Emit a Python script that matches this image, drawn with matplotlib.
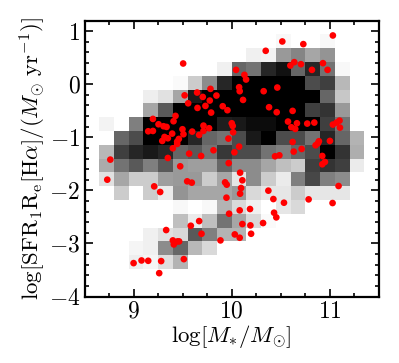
import numpy as np
import matplotlib
matplotlib.use("Agg")
import matplotlib.pyplot as plt
from matplotlib.ticker import MultipleLocator, FixedFormatter, FixedLocator

plt.rcParams['font.family'] = ['cmr10', 'DejaVu Sans']
plt.rcParams['mathtext.fontset'] = 'cm'
plt.rcParams['axes.formatter.use_mathtext'] = True

x_edges = np.linspace(8.5, 11.5, 21)
y_edges = np.linspace(-4, 1.2, 21)

# darkness of each cell, rows from bottom (-4) to top (1.2), 20 mass bins each
density = [
 [0]*20,
 [0]*20,
 [0,0,0,.07,.04,.13,.30,0,0,0,0,0,0,0,0,0,0,0,0,0],
 [0,0,0,.04,.06,.45,.60,.28,.15,0,0,0,0,0,0,0,0,0,0,0],
 [0,0,0,0,.06,.12,.15,.65,.50,.30,.30,0,0,0,0,0,0,0,0,0],
 [0,0,0,0,0,0,.25,.08,.25,.55,.35,.15,.02,0,0,0,0,0,0,0],
 [0,0,0,0,0,0,.03,0,.03,.30,.15,.06,0,.10,.15,0,0,0,0,0],
 [0,0,.20,0,.20,.08,.42,.35,.35,.35,.40,.15,.10,.10,.20,.10,.10,.10,0,0],
 [0,.12,.35,.20,.20,.38,.40,.40,.20,.35,.10,.45,.20,.08,.50,.72,.50,.45,0,0],
 [0,.33,.55,.65,.50,.65,.40,.38,.38,.60,.45,.45,.35,.25,.20,.75,.80,.75,.08,0],
 [0,.28,.75,.85,.90,.85,.60,.65,.55,.78,.70,.70,.55,.50,.60,.70,1,.80,.32,0],
 [0,0,.60,.70,1,1,1,.85,.60,.55,.70,.90,1,.70,.70,.55,.85,.60,.30,0],
 [0,.05,0,.50,1,1,1,1,1,.88,.90,.95,.95,1,1,1,.75,.55,0,0],
 [0,0,0,0,.35,.65,1,1,1,1,1,1,1,1,1,.75,.80,.40,0,0],
 [0,0,0,0,.07,.12,.35,.90,1,1,1,1,1,1,1,1,.60,.22,0,0],
 [0,0,0,0,0,0,.02,.20,.45,.85,1,1,1,1,1,.70,.75,.28,0,0],
 [0,0,0,0,0,0,0,0,0,.06,.60,.55,.85,.93,.60,.85,.55,.03,0,0],
 [0,0,0,0,0,0,0,0,0,0,0,.06,.05,.40,.48,.35,.42,0,0,0],
 [0,0,0,0,0,0,0,0,0,0,0,0,0,.03,0,0,.03,0,0,0],
 [0]*20,
]

galaxy_mass = [
 9.505,9.52,9.556,9.647,9.705,9.783,9.844,9.776,9.732,9.651,9.79,9.908,9.956,9.427,9.407,9.197,9.254,9.305,9.336,
 9.149,9.197,9.498,9.597,9.712,9.712,9.769,9.668,9.508,9.393,9.315,9.349,9.292,9.461,9.444,9.444,9.4,9.566,9.688,
 9.814,9.349,9.475,8.763,9.966,9.969,
 11.03,10.515,10.729,10.346,10.637,10.597,10.705,10.929,10.976,10.817,10.044,10.129,10.146,10.075,10.081,10.325,
 10.464,10.115,10.38,10.458,10.62,10.573,10.664,10.607,10.647,10.769,10.841,10.0,10.01,10.014,11.03,11.068,11.098,
 11.102,11.0,10.888,10.878,10.854,10.62,10.075,10.027,10.631,10.712,10.485,10.441,10.922,10.949,10.922,
 8.732,9.21,9.271,9.546,9.593,9.932,9.949,9.946,9.973,9.332,9.583,9.668,9.692,9.885,9.4,9.447,9.464,9.41,9.512,
 9.281,9.149,9.081,9.0,9.261,
 10.085,10.108,10.095,10.085,10.373,10.424,10.532,10.783,11.027,11.088,10.081,10.186,10.431,10.454,10.319,10.108,
 10.19,10.031,10.081,10.197,
]
galaxy_sfr = [
 .39,-.21,-.36,-.157,-.24,-.088,-.214,-.308,-.409,-.447,-.535,-.415,-.49,-.597,-.698,-.654,-.755,-.792,-.805,
 -.887,-.881,-.849,-.893,-.78,-.881,-.83,-.956,-.943,-.931,-.994,-1.019,-1.069,-1.031,-1.082,-1.126,-1.208,-1.308,-1.352,
 -1.245,-1.39,-1.547,-1.421,-1.025,-1.487,
 .918,.805,.755,.629,.415,.352,.377,.396,.27,.27,.27,.176,.088,-.057,-.132,-.132,
 -.063,-.296,-.434,-.528,-.503,-.704,-.736,-.811,-.843,-.742,-.723,-.736,-.786,-.906,-.761,-.723,-.686,
 -.818,-1.069,-1.075,-1.113,-1.151,-1.088,-1.176,-1.283,-1.27,-1.22,-1.34,-1.358,-1.352,-1.465,-1.509,
 -1.799,-1.925,-2.031,-1.83,-1.855,-1.849,-1.893,-2.138,-2.44,-2.748,-2.667,-2.579,-2.818,-2.943,-2.943,-2.962,-2.962,-3.019,-3.296,
 -3.333,-3.327,-3.321,-3.371,-3.56,
 -1.667,-1.811,-1.956,-2.063,-2.006,-2.164,-2.233,-2.17,-2.239,-1.918,-2.377,-2.352,-2.421,-2.509,-2.616,-2.635,
 -2.66,-2.83,-2.893,-2.818,
]

fig = plt.figure(figsize=(3.99, 3.63), dpi=100)
ax = fig.add_axes([84.5/399, 1-296.5/363, (379-84.5)/399, (296.5-20.5)/363])
ax.pcolormesh(x_edges, y_edges, np.array(density), cmap='gray_r', vmin=0, vmax=1, rasterized=True)
ax.scatter(galaxy_mass, galaxy_sfr, s=23, c='red', edgecolors='none', zorder=3)

ax.set_xlim(8.5, 11.5)
ax.set_ylim(-4, 1.2)
ax.xaxis.set_major_locator(FixedLocator([9, 10, 11]))
ax.xaxis.set_major_formatter(FixedFormatter(['$9$', '$10$', '$11$']))
ax.xaxis.set_minor_locator(MultipleLocator(0.25))
ax.yaxis.set_major_locator(FixedLocator([-4, -3, -2, -1, 0, 1]))
ax.yaxis.set_major_formatter(FixedFormatter(['$-4$', '$-3$', '$-2$', '$-1$', '$0$', '$1$']))
ax.yaxis.set_minor_locator(MultipleLocator(0.2))
ax.tick_params(which='both', direction='in', top=True, right=True, width=1.2)
ax.tick_params(which='major', length=6, labelsize=17, pad=3)
ax.tick_params(which='minor', length=3)
for s in ax.spines.values():
    s.set_linewidth(1.6)
ax.set_xlabel(r'$\log[M_{*}/M_{\odot}]$', fontsize=16.5, labelpad=0)
ax.set_ylabel(r'$\log[\mathrm{SFR}_{1}\mathrm{R}_{\mathrm{e}}[\mathrm{H}\alpha]/(M_{\odot}\ \mathrm{yr}^{-1})]$', fontsize=16.5, labelpad=1)
fig.savefig('out.png', dpi=100)
